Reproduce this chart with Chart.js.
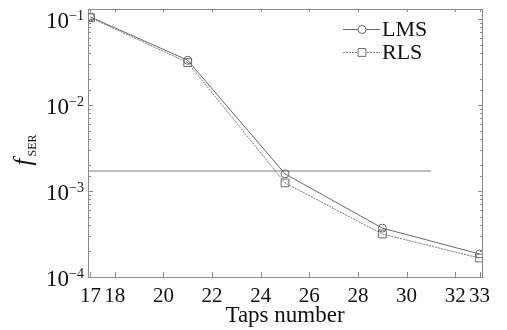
<!DOCTYPE html>
<html>
<head>
<meta charset="utf-8">
<script src="https://cdn.jsdelivr.net/npm/chart.js@4.4.1/dist/chart.umd.min.js"></script>
<style>
  html, body { margin: 0; padding: 0; background: #fff; }
  #wrap { width: 507px; height: 330px; }
</style>
</head>
<body>
<div id="wrap"><canvas id="chart-ser"></canvas></div>
<script>
const taps = [17, 21, 25, 29, 33];
const lmsSer = [0.105, 0.033, 0.00158, 0.00037, 0.000185];
const rlsSer = [0.103, 0.031, 0.00124, 0.000316, 0.000166];
const thresholdX = [16.9, 31];
const thresholdSer = 0.0017;
const xTickValues = [17, 18, 20, 22, 24, 26, 28, 30, 32, 33];
const yDecades = [-1, -2, -3, -4];

const SERIF = "'Liberation Serif', 'DejaVu Serif', serif";
const AXIS = "#8a8a8a";

const ctx = document.getElementById("chart-ser").getContext("2d");

// frame, inward ticks, superscript y labels, legend and y title
const decorations = {
  id: "decorations",
  afterDraw(chart) {
    const c = chart.ctx;
    const a = chart.chartArea;
    const xs = chart.scales.x;
    const ys = chart.scales.y;
    c.save();

    c.strokeStyle = AXIS;
    c.lineWidth = 1;
    c.strokeRect(a.left + 0.5, a.top + 0.5, a.right - a.left, a.bottom - a.top);

    c.beginPath();
    xs.ticks.forEach((t) => {
      const px = Math.round(xs.getPixelForValue(t.value)) + 0.5;
      c.moveTo(px, a.bottom);
      c.lineTo(px, a.bottom - 5);
      c.moveTo(px, a.top);
      c.lineTo(px, a.top + 3);
    });
    ys.ticks.forEach((t) => {
      const py = Math.round(ys.getPixelForValue(t.value)) + 0.5;
      if (py < a.top || py > a.bottom + 1) return;
      const major = Math.abs(Math.log10(t.value) - Math.round(Math.log10(t.value))) < 1e-6;
      c.moveTo(a.left, py);
      c.lineTo(a.left + (major ? 5 : 3), py);
      c.moveTo(a.right, py);
      c.lineTo(a.right - (major ? 4 : 2), py);
    });
    c.stroke();

    // y labels 10^n
    c.fillStyle = "#111";
    yDecades.forEach((d) => {
      const py = ys.getPixelForValue(Math.pow(10, d));
      const sup = "\u2212" + Math.abs(d);
      c.font = "14px " + SERIF;
      const w2 = c.measureText(sup).width;
      c.font = "23px " + SERIF;
      const w1 = c.measureText("10").width;
      const right = a.left - 4;
      c.textAlign = "left";
      c.textBaseline = "middle";
      c.fillText("10", right - w2 - w1, py + 3);
      c.font = "14px " + SERIF;
      c.textBaseline = "alphabetic";
      c.fillText(sup, right - w2, py + 1);
    });

    // y title f_SER
    c.save();
    c.translate(31, 150);
    c.rotate(-Math.PI / 2);
    c.font = "italic 25px " + SERIF;
    const wf = c.measureText("f").width;
    c.font = "12px " + SERIF;
    const ws = c.measureText("SER").width;
    const start = -(wf + ws + 2) / 2;
    c.textAlign = "left";
    c.textBaseline = "alphabetic";
    c.font = "italic 25px " + SERIF;
    c.fillText("f", start, 0);
    c.font = "12px " + SERIF;
    c.fillText("SER", start + wf + 2, 5);
    c.restore();

    // legend
    const rows = [29, 52];
    chart.data.datasets.forEach((ds, i) => {
      if (i > 1) return;
      const y = rows[i];
      c.strokeStyle = ds.borderColor;
      c.lineWidth = 1;
      c.setLineDash(ds.borderDash || []);
      c.beginPath();
      c.moveTo(343, y + 0.5);
      c.lineTo(380, y + 0.5);
      c.stroke();
      c.setLineDash([]);
      c.fillStyle = "#fff";
      c.strokeStyle = ds.pointBorderColor;
      Chart.helpers.drawPoint(c, {
        pointStyle: ds.pointStyle,
        radius: ds.pointRadius,
        borderWidth: 1,
      }, 362, y + 0.5);
      c.fillStyle = "#111";
      c.font = "22px " + SERIF;
      c.textAlign = "left";
      c.textBaseline = "middle";
      c.fillText(ds.label, 382, y + 1);
    });

    c.restore();
  },
};

new Chart(ctx, {
  type: "line",
  data: {
    datasets: [
      {
        label: "LMS",
        data: taps.map((t, i) => ({ x: t, y: lmsSer[i] })),
        borderColor: "#6a6a6a",
        borderWidth: 1,
        pointStyle: "circle",
        pointRadius: 4,
        pointBorderColor: "#6a6a6a",
        pointBackgroundColor: "rgba(0,0,0,0)",
        pointBorderWidth: 1,
      },
      {
        label: "RLS",
        data: taps.map((t, i) => ({ x: t, y: rlsSer[i] })),
        borderColor: "#7a7a7a",
        borderWidth: 1,
        borderDash: [2, 1],
        pointStyle: "rect",
        pointRadius: 5.5,
        pointBorderColor: "#6a6a6a",
        pointBackgroundColor: "rgba(0,0,0,0)",
        pointBorderWidth: 1,
      },
      {
        label: "threshold",
        data: thresholdX.map((x) => ({ x: x, y: thresholdSer })),
        borderColor: "#bdbdbd",
        borderWidth: 2,
        pointRadius: 0,
      },
    ],
  },
  options: {
    responsive: true,
    maintainAspectRatio: false,
    animation: false,
    layout: {
      padding: { top: 9, right: 25, left: 0, bottom: 0 },
    },
    plugins: {
      legend: { display: false },
      tooltip: { enabled: false },
    },
    scales: {
      x: {
        type: "linear",
        min: 16.9,
        max: 33.1,
        afterBuildTicks: (scale) => {
          scale.ticks = xTickValues.map((v) => ({ value: v }));
        },
        afterFit: (scale) => {
          scale.height = 53;
        },
        grid: { display: false, drawTicks: false },
        border: { display: false },
        ticks: {
          autoSkip: false,
          maxRotation: 0,
          padding: 7,
          color: "#111",
          font: { family: SERIF, size: 21 },
          callback: (v) => String(v),
        },
        title: {
          display: true,
          text: "Taps number",
          color: "#111",
          font: { family: SERIF, size: 23 },
          padding: { top: -5, bottom: 0 },
        },
      },
      y: {
        type: "logarithmic",
        min: 1e-4,
        max: 0.13,
        afterFit: (scale) => {
          scale.width = 88;
        },
        grid: { display: false, drawTicks: false },
        border: { display: false },
        ticks: { display: false },
      },
    },
  },
  plugins: [decorations],
});
</script>
</body>
</html>
